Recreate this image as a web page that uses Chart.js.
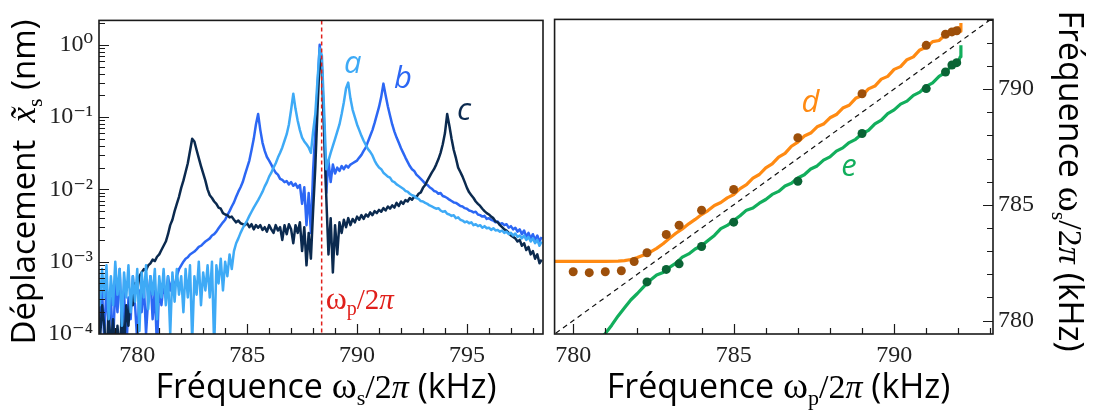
<!DOCTYPE html>
<html>
<head>
<meta charset="utf-8">
<script src="https://cdn.jsdelivr.net/npm/chart.js@4.4.1/dist/chart.umd.min.js"></script>
<style>
  html, body { margin: 0; padding: 0; background: #fff; }
  #wrap { position: relative; width: 1096px; height: 410px; overflow: hidden; }
  canvas { position: absolute; top: 0; }
  #left { left: 0; }
  #right { left: 548px; }
</style>
</head>
<body>
<div id="wrap">
  <canvas id="left" width="548" height="410"></canvas>
  <canvas id="right" width="548" height="410"></canvas>
</div>
<script>
// ---- left panel: spectra (kHz, nm) ----
const freq = [
  778.2,778.3,778.4,778.5,778.6,778.7,778.8,778.9,
  779.0,779.1,779.2,779.3,779.4,779.5,779.6,779.7,779.8,779.9,
  780.0,780.1,780.2,780.3,780.4,780.5,780.6,780.7,780.8,780.9,
  781.0,781.1,781.2,781.3,781.4,781.5,781.6,781.7,781.8,781.9,
  782.0,782.1,782.2,782.3,782.4,782.5,782.6,782.7,782.8,782.9,
  783.0,783.1,783.2,783.3,783.4,783.5,783.6,783.7,783.8,783.9,
  784.0,784.1,784.2,784.3,784.4,784.5,784.6,784.7,784.8,784.9,
  785.0,785.1,785.2,785.3,785.4,785.5,785.6,785.7,785.8,785.9,
  786.0,786.1,786.2,786.3,786.4,786.5,786.6,786.7,786.8,786.9,
  787.0,787.1,787.2,787.3,787.4,787.5,787.6,787.7,787.8,787.9,
  788.0,788.1,788.2,788.3,788.4,788.5,788.6,788.7,788.8,788.9,
  789.0,789.1,789.2,789.3,789.4,789.5,789.6,789.7,789.8,789.9,
  790.0,790.1,790.2,790.3,790.4,790.5,790.6,790.7,790.8,790.9,
  791.0,791.1,791.2,791.3,791.4,791.5,791.6,791.7,791.8,791.9,
  792.0,792.1,792.2,792.3,792.4,792.5,792.6,792.7,792.8,792.9,
  793.0,793.1,793.2,793.3,793.4,793.5,793.6,793.7,793.8,793.9,
  794.0,794.1,794.2,794.3,794.4,794.5,794.6,794.7,794.8,794.9,
  795.0,795.1,795.2,795.3,795.4,795.5,795.6,795.7,795.8,795.9,
  796.0,796.1,796.2,796.3,796.4,796.5,796.6,796.7,796.8,796.9,
  797.0,797.1,797.2,797.3,797.4,797.5,797.6,797.7,797.8,797.9,
  798.0,798.1,798.2,798.3,798.4
];

const spectrumA = [
  1.0e-3,2.5e-4,7.9e-4,3.2e-4,8.9e-4,1.6e-4,6.3e-4,2.5e-4,
  1.0e-3,3.5e-4,7.9e-4,1.3e-4,7.1e-4,3.2e-4,8.9e-4,2.0e-4,6.3e-4,2.8e-4,
  7.9e-4,1.1e-4,7.1e-4,3.2e-4,8.9e-4,2.2e-4,6.3e-4,3.5e-4,7.9e-4,1.6e-4,
  6.3e-4,3.2e-4,7.9e-4,2.5e-4,6.3e-4,1.0e-4,7.1e-4,2.8e-4,7.9e-4,3.5e-4,
  6.3e-4,2.0e-4,7.9e-4,3.2e-4,8.9e-4,7.9e-5,6.3e-4,3.5e-4,1.0e-3,2.5e-4,
  7.1e-4,4.0e-4,8.9e-4,3.2e-4,1.0e-3,6.3e-5,8.9e-4,5.0e-4,1.1e-3,4.0e-4,
  1.0e-3,6.3e-4,1.26e-3,7.9e-4,1.4e-3,1.8e-3,2.1e-3,2.5e-3,2.9e-3,3.3e-3,
  3.7e-3,4.3e-3,4.9e-3,5.6e-3,6.3e-3,7.1e-3,8.1e-3,9.3e-3,1.1e-2,1.26e-2,
  1.5e-2,1.7e-2,2.0e-2,2.3e-2,2.75e-2,3.2e-2,3.8e-2,4.7e-2,5.8e-2,7.9e-2,
  0.126,0.21,0.13,8.9e-2,6.6e-2,5.2e-2,4.6e-2,4.2e-2,3.8e-2,3.2e-2,
  6.3e-2,0.11,0.32,0.89,0.71,0.126,1.9e-2,2.5e-2,3.2e-2,4.0e-2,
  5.0e-2,6.3e-2,7.9e-2,0.11,0.16,0.25,0.3,0.18,0.126,0.1,
  7.9e-2,6.6e-2,5.5e-2,4.7e-2,4.1e-2,3.6e-2,3.3e-2,2.95e-2,2.5e-2,2.2e-2,
  2.0e-2,1.9e-2,1.7e-2,1.6e-2,1.5e-2,1.45e-2,1.3e-2,1.26e-2,1.17e-2,1.12e-2,
  1.07e-2,1.02e-2,9.5e-3,9.3e-3,8.7e-3,8.3e-3,8.1e-3,7.6e-3,7.4e-3,6.9e-3,
  6.8e-3,6.5e-3,6.3e-3,6.0e-3,5.8e-3,5.6e-3,5.4e-3,5.5e-3,5.1e-3,4.9e-3,
  5.0e-3,4.6e-3,4.5e-3,4.3e-3,4.4e-3,4.0e-3,4.1e-3,3.8e-3,3.7e-3,3.5e-3,
  3.6e-3,3.4e-3,3.5e-3,3.2e-3,3.3e-3,3.1e-3,3.2e-3,2.95e-3,3.1e-3,2.9e-3,
  2.95e-3,2.75e-3,2.9e-3,2.7e-3,2.75e-3,2.6e-3,2.7e-3,2.5e-3,2.6e-3,2.4e-3,
  2.5e-3,2.3e-3,2.45e-3,2.2e-3,2.3e-3,2.1e-3,2.3e-3,2.0e-3,2.2e-3,1.9e-3,
  2.1e-3,1.8e-3,2.0e-3,1.66e-3,1.9e-3
];

const spectrumB = [
  6.3e-4,1.6e-4,4.0e-4,7.9e-5,5.0e-4,1.3e-4,3.2e-4,6.3e-5,
  5.0e-4,2.0e-4,7.9e-4,1.3e-4,4.0e-4,5.0e-5,3.2e-4,1.6e-4,6.3e-4,2.5e-4,
  7.9e-5,4.0e-4,2.0e-4,5.0e-4,1.0e-4,3.2e-4,6.3e-4,1.6e-4,4.0e-4,6.3e-5,
  5.0e-4,2.5e-4,5.0e-4,3.2e-4,6.3e-4,4.0e-4,5.6e-4,4.5e-4,6.3e-4,7.9e-4,
  8.9e-4,1.0e-3,1.1e-3,1.15e-3,1.26e-3,1.32e-3,1.38e-3,1.48e-3,1.6e-3,1.66e-3,
  1.78e-3,1.9e-3,2.0e-3,2.1e-3,2.3e-3,2.4e-3,2.6e-3,2.9e-3,3.2e-3,3.5e-3,
  3.8e-3,4.4e-3,5.0e-3,5.8e-3,6.6e-3,7.9e-3,9.3e-3,1.07e-2,1.26e-2,1.6e-2,
  2.0e-2,2.5e-2,3.5e-2,5.0e-2,7.9e-2,0.11,6.6e-2,4.4e-2,3.4e-2,2.8e-2,
  2.5e-2,2.2e-2,1.9e-2,1.7e-2,1.6e-2,1.4e-2,1.35e-2,1.26e-2,1.3e-2,1.17e-2,
  1.26e-2,1.12e-2,1.2e-2,1.05e-2,1.15e-2,6.3e-3,1.07e-2,3.2e-3,8.9e-3,2.5e-3,
  1.8e-2,6.3e-2,0.25,1.0,0.5,7.9e-2,8.9e-3,2.5e-2,1.26e-2,2.2e-2,
  1.66e-2,2.0e-2,1.8e-2,2.1e-2,1.9e-2,2.14e-2,2.0e-2,2.2e-2,2.3e-2,2.4e-2,
  2.5e-2,2.75e-2,3.0e-2,3.4e-2,3.8e-2,4.6e-2,5.5e-2,6.6e-2,8.3e-2,0.107,
  0.138,0.19,0.29,0.2,0.141,0.105,7.9e-2,6.3e-2,5.2e-2,4.4e-2,
  3.7e-2,3.2e-2,2.75e-2,2.4e-2,2.1e-2,1.9e-2,1.8e-2,1.6e-2,1.5e-2,1.4e-2,
  1.3e-2,1.2e-2,1.15e-2,1.07e-2,1.02e-2,9.5e-3,9.3e-3,8.7e-3,8.9e-3,8.1e-3,
  7.9e-3,7.6e-3,7.2e-3,6.9e-3,6.6e-3,6.5e-3,6.2e-3,5.9e-3,5.8e-3,5.5e-3,
  5.4e-3,5.1e-3,5.0e-3,4.8e-3,4.9e-3,4.5e-3,4.4e-3,4.2e-3,4.3e-3,3.9e-3,
  4.0e-3,3.8e-3,3.7e-3,3.5e-3,3.6e-3,3.3e-3,3.4e-3,3.2e-3,3.3e-3,2.95e-3,
  3.1e-3,2.8e-3,2.95e-3,2.6e-3,2.8e-3,2.4e-3,2.7e-3,2.2e-3,2.5e-3,2.1e-3,
  2.4e-3,2.0e-3,2.3e-3,1.9e-3,2.2e-3
];

const spectrumC = [
  3.2e-4,7.9e-5,2.5e-4,1.3e-4,5.0e-5,2.0e-4,6.3e-5,1.6e-4,
  4.0e-5,1.3e-4,5.0e-5,2.0e-4,6.3e-5,2.5e-4,1.3e-4,4.0e-4,2.5e-4,5.0e-4,
  4.0e-4,6.3e-4,7.1e-4,7.9e-4,7.6e-4,8.9e-4,9.5e-4,1.07e-3,1.02e-3,1.17e-3,
  1.26e-3,1.45e-3,1.66e-3,1.9e-3,2.4e-3,3.2e-3,3.8e-3,5.0e-3,6.3e-3,7.9e-3,
  1.05e-2,1.32e-2,1.74e-2,2.3e-2,3.4e-2,5.0e-2,4.6e-2,3.5e-2,2.7e-2,2.1e-2,
  1.66e-2,1.32e-2,1.0e-2,8.3e-3,7.6e-3,6.8e-3,6.3e-3,5.6e-3,5.4e-3,4.7e-3,
  4.5e-3,4.4e-3,4.1e-3,4.2e-3,3.8e-3,3.5e-3,3.7e-3,3.4e-3,3.3e-3,3.2e-3,
  3.4e-3,3.0e-3,3.3e-3,2.8e-3,3.2e-3,2.95e-3,3.2e-3,2.75e-3,3.0e-3,2.6e-3,
  3.2e-3,2.8e-3,2.5e-3,3.2e-3,2.7e-3,3.0e-3,2.0e-3,3.2e-3,2.4e-3,3.3e-3,
  2.8e-3,1.8e-3,3.2e-3,2.5e-3,3.5e-3,1.4e-3,3.0e-3,8.9e-4,2.5e-3,1.1e-3,
  5.0e-3,2.0e-2,0.126,0.63,0.45,6.3e-2,7.9e-3,1.26e-3,4.0e-3,7.1e-4,
  3.2e-3,1.26e-3,3.5e-3,2.5e-3,3.8e-3,3.0e-3,4.0e-3,3.2e-3,3.9e-3,3.5e-3,
  4.2e-3,3.8e-3,4.4e-3,3.9e-3,4.5e-3,4.2e-3,4.8e-3,4.4e-3,5.0e-3,4.7e-3,
  5.2e-3,4.9e-3,5.5e-3,5.1e-3,5.8e-3,5.4e-3,6.0e-3,5.6e-3,6.5e-3,5.9e-3,
  6.8e-3,6.3e-3,7.1e-3,6.8e-3,7.6e-3,7.2e-3,7.9e-3,7.8e-3,8.7e-3,9.1e-3,
  1.05e-2,1.15e-2,1.32e-2,1.5e-2,1.7e-2,1.9e-2,2.2e-2,2.6e-2,3.2e-2,4.2e-2,
  6.0e-2,0.11,7.6e-2,5.0e-2,3.5e-2,2.7e-2,2.0e-2,1.74e-2,1.5e-2,1.26e-2,
  1.05e-2,9.1e-3,8.3e-3,7.6e-3,6.8e-3,6.3e-3,5.9e-3,5.4e-3,5.0e-3,4.7e-3,
  4.5e-3,4.2e-3,4.0e-3,3.6e-3,3.5e-3,3.2e-3,3.0e-3,2.8e-3,2.7e-3,2.5e-3,
  2.3e-3,2.2e-3,2.1e-3,1.9e-3,2.0e-3,1.66e-3,1.8e-3,1.45e-3,1.6e-3,1.26e-3,
  1.4e-3,1.1e-3,1.26e-3,9.5e-4,1.07e-3
];

const pumpFreq = 788.39;
const leftXTicks = [780, 785, 790, 795];
const leftYTicks = [1e-4, 1e-3, 1e-2, 1e-1, 1];

// ---- right panel: signal frequency vs pump frequency (kHz) ----
const dX = [779.42,780.2,781.0,781.4,781.6,781.8,
  782.0,782.2,782.4,782.6,782.8,783.0,783.2,783.4,783.6,783.8,
  784.0,784.2,784.4,784.6,784.8,785.0,785.2,785.4,785.6,785.8,
  786.0,786.2,786.4,786.6,786.8,787.0,787.2,787.4,787.6,787.8,
  788.0,788.2,788.4,788.6,788.8,789.0,789.2,789.4,789.6,789.8,
  790.0,790.2,790.4,790.6,790.8,791.0,791.2,791.4,791.6,791.8,
  792.0,792.06,792.08];
const dY = [782.56,782.56,782.56,782.57,782.59,782.64,
  782.72,782.83,782.96,783.12,783.32,783.55,783.77,783.96,784.18,784.37,
  784.58,784.75,784.97,785.1,785.3,785.44,785.7,785.87,786.15,786.31,
  786.6,786.77,787.06,787.22,787.53,787.71,787.97,788.1,788.37,788.49,
  788.76,788.9,789.18,789.3,789.6,789.72,790.01,790.13,790.43,790.55,
  790.85,790.97,791.27,791.39,791.69,791.81,792.05,792.1,792.35,792.41,
  792.65,792.5,792.85];

const eX = [780.95,781.2,781.4,781.6,781.8,
  782.0,782.2,782.4,782.6,782.8,783.0,783.2,783.4,783.6,783.8,
  784.0,784.2,784.4,784.6,784.8,785.0,785.2,785.4,785.6,785.8,
  786.0,786.2,786.4,786.6,786.8,787.0,787.2,787.4,787.6,787.8,
  788.0,788.2,788.4,788.6,788.8,789.0,789.2,789.4,789.6,789.8,
  790.0,790.2,790.4,790.6,790.8,791.0,791.2,791.4,791.6,791.8,
  792.0,792.06,792.08];
const eY = [779.35,779.8,780.2,780.55,780.9,
  781.17,781.47,781.74,781.97,782.08,782.3,782.48,782.74,782.88,783.09,
  783.23,783.46,783.68,783.97,784.11,784.32,784.53,784.77,784.86,785.07,
  785.23,785.45,785.58,785.81,785.93,786.16,786.3,786.55,786.68,786.93,
  787.07,787.32,787.46,787.69,787.83,788.07,788.22,788.5,788.66,788.94,
  789.1,789.35,789.48,789.73,789.87,790.12,790.27,790.55,790.72,791.03,
  791.17,791.4,791.89];

const dDotX = [780.0,780.5,781.0,781.5,781.9,782.3,782.9,783.3,784.0,785.0,787.0,789.0,791.0,791.6,791.8,791.95];
const dDotY = [782.11,782.07,782.11,782.15,782.55,782.93,783.72,784.12,784.77,785.66,787.9,789.8,791.89,792.37,792.47,792.52];
const eDotX = [782.3,782.9,783.3,784.0,785.0,787.0,789.0,791.0,791.6,791.8,791.95];
const eDotY = [781.67,782.21,782.45,783.2,784.25,786.02,788.08,790.02,790.74,791.04,791.14];

const diagX = [779, 794];
const rightTicks = [780, 785, 790];

// ---- styles ----
const colA = '#3eaaf6', colB = '#2c67f4', colC = '#0b2a4f';
const colD = '#ff8a12', colE = '#12ae5c', dotD = '#9d4f0a', dotE = '#0a6435';
const pumpRed = '#e0201b';
const sans = '"Open Sans", "DejaVu Sans", sans-serif';
const serif = '"Liberation Serif", "DejaVu Serif", serif';
const tickFont = { family: serif, size: 24 };

const zip = (xs, ys) => xs.map((x, i) => ({ x: x, y: ys[i] }));
const supMap = { '-': '\u207B', '0': '\u2070', '1': '\u00B9', '2': '\u00B2', '3': '\u00B3', '4': '\u2074' };
const sup = n => String(n).split('').map(ch => supMap[ch]).join('');

function range(a, b, step, skip) {
  const out = [];
  for (let v = a; v <= b + 1e-9; v += step) {
    const r = Math.round(v * 1000) / 1000;
    if (!skip.includes(r)) out.push(r);
  }
  return out;
}
const logMinor = [];
[-4, -3, -2, -1, 0].forEach(n => { for (let m = 2; m <= 9; m++) logMinor.push(m * Math.pow(10, n)); });

function drawRich(ctx, parts, x, y, angle, align) {
  ctx.save();
  ctx.translate(x, y);
  ctx.rotate(angle);
  ctx.textBaseline = 'alphabetic';
  ctx.textAlign = 'left';
  let total = 0;
  parts.forEach(p => { ctx.font = p.font; p.w = ctx.measureText(p.t).width; total += p.w; });
  let cx = align === 'left' ? 0 : -total / 2;
  parts.forEach(p => {
    ctx.font = p.font;
    ctx.fillStyle = p.color || ctx.fillStyle;
    ctx.fillText(p.t, cx, p.dy || 0);
    cx += p.w;
  });
  ctx.restore();
}

// inward ticks, frame, annotations and axis titles
const frameTicks = {
  id: 'frameTicks',
  afterDatasetsDraw(chart, args, o) {
    const { ctx, chartArea: a, scales } = chart;
    const xs = scales.x, ys = scales.y;
    ctx.save();
    if (o.pump) {
      const px = xs.getPixelForValue(o.pump);
      ctx.strokeStyle = pumpRed;
      ctx.lineWidth = 1.5;
      ctx.setLineDash([4, 3]);
      ctx.beginPath(); ctx.moveTo(px, a.top); ctx.lineTo(px, a.bottom); ctx.stroke();
      ctx.setLineDash([]);
      ctx.fillStyle = pumpRed;
      drawRich(ctx, [
        { t: '\u03C9', font: '32px ' + serif },
        { t: 'p', font: '20px ' + serif, dy: 6 },
        { t: '/2', font: '29px ' + serif },
        { t: '\u03C0', font: 'italic 29px ' + serif }
      ], px + 4, 309, 0, 'left');
    }
    ctx.strokeStyle = '#1a1a1a';
    ctx.lineWidth = 1.2;
    ctx.beginPath();
    const tx = (vals, len) => vals.forEach(v => {
      const p = Math.round(xs.getPixelForValue(v)) + 0.5;
      ctx.moveTo(p, a.bottom); ctx.lineTo(p, a.bottom - len);
    });
    const side = o.ySide === 'right' ? a.right : a.left;
    const dir = o.ySide === 'right' ? -1 : 1;
    const ty = (vals, len) => vals.forEach(v => {
      const p = Math.round(ys.getPixelForValue(v)) + 0.5;
      if (p < a.top || p > a.bottom) return;
      ctx.moveTo(side, p); ctx.lineTo(side + dir * len, p);
    });
    tx(o.xMajor, 10); tx(o.xMinor, 6);
    ty(o.yMajor, 10); ty(o.yMinor, 6);
    ctx.stroke();
    ctx.lineWidth = 1.6;
    ctx.strokeRect(a.left, a.top, a.width, a.height);
    ctx.textAlign = 'center';
    ctx.textBaseline = 'middle';
    (o.labels || []).forEach(l => {
      ctx.font = 'italic 500 31px ' + sans;
      ctx.fillStyle = l.color;
      ctx.fillText(l.text, xs.getPixelForValue(l.x), ys.getPixelForValue(l.y));
    });
    ctx.fillStyle = '#000';
    (o.titles || []).forEach(t => drawRich(ctx, t.parts, t.x, t.y, t.angle));
    ctx.restore();
  }
};

const titleParts = (sub) => [
  { t: 'Fr\u00E9quence ', font: '34px ' + sans },
  { t: '\u03C9', font: '38px ' + serif },
  { t: sub, font: '22px ' + serif, dy: 7 },
  { t: '/2', font: '34px ' + serif },
  { t: '\u03C0', font: 'italic 34px ' + serif },
  { t: ' (kHz)', font: '34px ' + sans }
];

const spectrum = (vals, col) => ({
  data: zip(freq, vals), borderColor: col, borderWidth: 2.5, pointRadius: 0,
  tension: 0, borderJoinStyle: 'round', fill: false
});

new Chart(document.getElementById('left'), {
  type: 'line',
  data: { datasets: [spectrum(spectrumA, colA), spectrum(spectrumC, colC), spectrum(spectrumB, colB)] },
  options: {
    responsive: false, animation: false, devicePixelRatio: 1,
    layout: { padding: { left: 0, right: 5, top: 1, bottom: 0 } },
    plugins: {
      legend: { display: false }, tooltip: { enabled: false },
      frameTicks: {
        pump: pumpFreq,
        xMajor: leftXTicks, xMinor: range(779, 798, 1, leftXTicks),
        yMajor: leftYTicks, yMinor: logMinor, ySide: 'left',
        labels: [
          { text: 'a', x: 789.8, y: 0.53, color: colA },
          { text: 'b', x: 792.09, y: 0.33, color: colB },
          { text: 'c', x: 794.87, y: 0.12, color: colC }
        ],
        titles: [
          { parts: titleParts('s'), x: 326, y: 398, angle: 0 },
          { parts: [
              { t: 'D\u00E9placement  ', font: '33px ' + sans },
              { t: 'x\u0303', font: 'italic 35px ' + serif },
              { t: 's', font: '22px ' + serif, dy: 7 },
              { t: ' (nm)', font: '33px ' + sans }
            ], x: 35, y: 182, angle: -Math.PI / 2 }
        ]
      }
    },
    scales: {
      x: {
        type: 'linear', min: 778.26, max: 798.46,
        grid: { display: false, drawTicks: false }, border: { display: false },
        afterBuildTicks: s => { s.ticks = leftXTicks.map(v => ({ value: v })); },
        afterFit: s => { s.height = 76; },
        ticks: { font: tickFont, color: '#222', padding: 7, maxRotation: 0, callback: v => String(v) }
      },
      y: {
        type: 'logarithmic', min: 1e-4, max: 2.17,
        grid: { display: false, drawTicks: false }, border: { display: false },
        afterBuildTicks: s => { s.ticks = leftYTicks.map(v => ({ value: v })); },
        afterFit: s => { s.width = 99; },
        ticks: { font: tickFont, color: '#222', padding: 6,
          callback: v => '10' + sup(Math.round(Math.log10(v))) }
      }
    }
  },
  plugins: [frameTicks]
});

new Chart(document.getElementById('right'), {
  type: 'line',
  data: { datasets: [
    { type: 'scatter', data: zip(dDotX, dDotY), backgroundColor: dotD, borderWidth: 0, pointRadius: 4.5 },
    { type: 'scatter', data: zip(eDotX, eDotY), backgroundColor: dotE, borderWidth: 0, pointRadius: 4.5 },
    { data: zip(dX, dY), borderColor: colD, borderWidth: 3.2, pointRadius: 0, tension: 0, borderJoinStyle: 'round' },
    { data: zip(eX, eY), borderColor: colE, borderWidth: 3.2, pointRadius: 0, tension: 0, borderJoinStyle: 'round' },
    { data: zip(diagX, diagX), borderColor: '#111', borderWidth: 1.2, borderDash: [5, 4], pointRadius: 0 }
  ]},
  options: {
    responsive: false, animation: false, devicePixelRatio: 1,
    layout: { padding: { left: 1, right: 0, top: 2, bottom: 0 } },
    plugins: {
      legend: { display: false }, tooltip: { enabled: false },
      frameTicks: {
        xMajor: rightTicks, xMinor: range(780, 793, 1, rightTicks),
        yMajor: rightTicks, yMinor: range(780, 793, 1, rightTicks), ySide: 'right',
        labels: [
          { text: 'd', x: 787.39, y: 789.41, color: colD },
          { text: 'e', x: 788.59, y: 786.61, color: colE }
        ],
        titles: [
          { parts: titleParts('p'), x: 230.5, y: 398, angle: 0 },
          { parts: titleParts('s'), x: 511, y: 181, angle: Math.PI / 2 }
        ]
      }
    },
    scales: {
      x: {
        type: 'linear', min: 779.42, max: 793.08,
        grid: { display: false, drawTicks: false }, border: { display: false },
        afterBuildTicks: s => { s.ticks = rightTicks.map(v => ({ value: v })); },
        afterFit: s => { s.height = 76; },
        ticks: { font: tickFont, color: '#222', padding: 7, maxRotation: 0, callback: v => String(v) }
      },
      y: {
        type: 'linear', position: 'right', min: 779.42, max: 793.01,
        grid: { display: false, drawTicks: false }, border: { display: false },
        afterBuildTicks: s => { s.ticks = rightTicks.map(v => ({ value: v })); },
        afterFit: s => { s.width = 103; },
        ticks: { font: tickFont, color: '#222', padding: 5, callback: v => String(v) }
      }
    }
  },
  plugins: [frameTicks]
});
</script>
</body>
</html>
